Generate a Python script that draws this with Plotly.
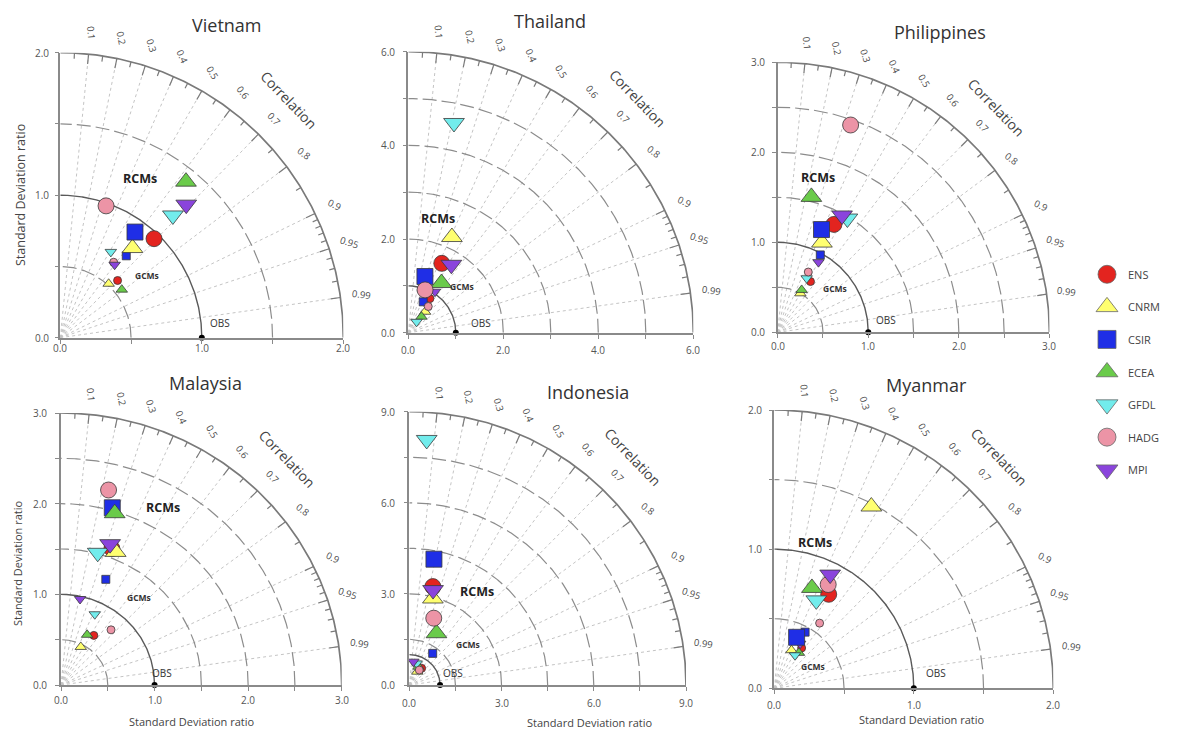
import numpy as np
import plotly.graph_objects as go

W, H = 1178, 733
FONT = "Open Sans"

# ---------------- data ----------------
models = ["ENS", "CNRM", "CSIR", "ECEA", "GFDL", "HADG", "MPI"]
model_colors = ["#e3241f", "#ffff70", "#1f2ee6", "#6acb4a", "#72ecec", "#ec94a6", "#8a44dc"]
model_symbols = ["circle", "triangle-up", "square", "triangle-up", "triangle-down", "circle", "triangle-down"]

countries = ["Vietnam", "Thailand", "Philippines", "Malaysia", "Indonesia", "Myanmar"]
std_max = [2.0, 6.0, 3.0, 3.0, 9.0, 2.0]
arc_step = [0.5, 1.0, 0.5, 0.5, 1.5, 0.5]
label_step = [1.0, 2.0, 1.0, 1.0, 3.0, 1.0]

# standard deviation ratio / correlation, ordered as `models`
rcm_std = {
    "Vietnam":     [0.96, 0.81, 0.91, 1.41, 1.17, 0.98, 1.29],
    "Thailand":    [1.64, 2.24, 1.25, 1.27, 4.58, 0.98, 1.71],
    "Philippines": [1.35, 1.11, 1.24, 1.55, 1.48, 2.44, 1.48],
    "Malaysia":    [1.60, 1.58, 2.03, 1.98, 1.51, 2.21, 1.64],
    "Indonesia":   [3.33, 2.95, 4.22, 1.92, 8.09, 2.34, 3.22],
    "Myanmar":     [0.78, 1.48, 0.40, 0.77, 0.70, 0.84, 0.91],
}
rcm_cor = {
    "Vietnam":     [0.69, 0.63, 0.58, 0.63, 0.68, 0.33, 0.69],
    "Thailand":    [0.43, 0.41, 0.28, 0.55, 0.21, 0.36, 0.53],
    "Philippines": [0.46, 0.44, 0.39, 0.24, 0.52, 0.33, 0.48],
    "Malaysia":    [0.34, 0.37, 0.27, 0.29, 0.26, 0.23, 0.32],
    "Indonesia":   [0.23, 0.26, 0.19, 0.46, 0.07, 0.34, 0.24],
    "Myanmar":     [0.50, 0.47, 0.40, 0.35, 0.43, 0.46, 0.44],
}
gcm_std = {
    "Vietnam":     [0.57, 0.51, 0.74, 0.55, 0.70, 0.65, 0.64],
    "Thailand":    [0.86, 0.57, 0.73, 0.44, 0.29, 0.70, 1.04],
    "Philippines": [0.67, 0.50, 0.98, 0.54, 0.68, 0.75, 0.90],
    "Malaysia":    [0.65, 0.47, 1.26, 0.62, 0.86, 0.81, 0.97],
    "Indonesia":   [0.68, 0.51, 1.29, 0.67, 0.75, 0.59, 0.78],
    "Myanmar":     [0.35, 0.30, 0.46, 0.31, 0.28, 0.57, 0.37],
}
gcm_cor = {
    "Vietnam":     [0.71, 0.67, 0.63, 0.79, 0.51, 0.58, 0.60],
    "Thailand":    [0.53, 0.62, 0.43, 0.63, 0.60, 0.60, 0.54],
    "Philippines": [0.54, 0.50, 0.48, 0.49, 0.47, 0.45, 0.50],
    "Malaysia":    [0.54, 0.45, 0.38, 0.45, 0.42, 0.66, 0.21],
    "Indonesia":   [0.59, 0.51, 0.59, 0.44, 0.32, 0.55, 0.17],
    "Myanmar":     [0.56, 0.41, 0.48, 0.57, 0.53, 0.57, 0.50],
}
obs_std = 1.0
cor_labels = [0.1, 0.2, 0.3, 0.4, 0.5, 0.6, 0.7, 0.8, 0.9, 0.95, 0.99]

# ---------------- panel geometry (pixels) ----------------
panel_origin = [(60.3, 337.7), (408.3, 332.7), (777.7, 332.3),
                (61.0, 685.0), (409.3, 685.0), (774.3, 688.3)]
panel_extent = [(283, 285), (285, 281), (271.7, 270),
                (280.7, 272), (276.7, 273.3), (279, 278.3)]
xtick_gap = [10.7, 17, 14, 15, 18, 17]
ytick_gap = [18, 20, 20, 21, 21, 19]
title_px = [(226.7, 25), (550, 21), (940, 32), (205.7, 383), (588.3, 392), (926.7, 385)]
# positions of the group labels in data units: RCMs, GCMs, OBS
group_label_pos = [
    [(0.56, 1.12), (0.61, 0.44), (1.13, 0.10)],
    [(0.63, 2.44), (1.12, 0.98), (1.54, 0.20)],
    [(0.45, 1.72), (0.63, 0.49), (1.20, 0.14)],
    [(1.09, 1.96), (0.83, 0.96), (1.08, 0.13)],
    [(2.19, 3.07), (1.92, 1.32), (1.43, 0.38)],
    [(0.29, 1.05), (0.28, 0.16), (1.16, 0.11)],
]


def px_to_paper(px, py):
    return px / W, 1 - py / H


def data_to_px(i, x, y):
    ox, oy = panel_origin[i]
    rx, ry = panel_extent[i]
    M = std_max[i]
    return ox + x / M * rx, oy - y / M * ry


def text(px, py, s, size, color="#444", angle=0, xanchor="center"):
    x, y = px_to_paper(px, py)
    return dict(x=x, y=y, xref="paper", yref="paper", text=s, showarrow=False,
                xanchor=xanchor, yanchor="middle", textangle=angle,
                font=dict(size=size, color=color, family=FONT))


fig = go.Figure()
annotations = []
axes = {}

for i, country in enumerate(countries):
    suffix = "" if i == 0 else str(i + 1)
    xr, yr = "x" + suffix, "y" + suffix
    M = std_max[i]
    ox, oy = panel_origin[i]
    rx, ry = panel_extent[i]
    step, lstep = arc_step[i], label_step[i]

    tickvals = list(np.round(np.arange(0, M + 1e-9, step), 3))
    common = dict(range=[0, M], showgrid=False, zeroline=False, showline=True,
                  linecolor="#8a8a8a", linewidth=1.6, ticks="outside", ticklen=4,
                  tickcolor="#8a8a8a", tickvals=tickvals, showticklabels=False, fixedrange=True)
    axes["xaxis" + suffix] = dict(common, domain=[ox / W, (ox + rx) / W], anchor=yr)
    axes["yaxis" + suffix] = dict(common, domain=[1 - oy / H, 1 - (oy - ry) / H], anchor=xr)

    # axis tick labels
    for v in np.arange(0, M + 1e-9, lstep):
        px, py = data_to_px(i, v, 0)
        annotations.append(text(px, py + xtick_gap[i], f"{v:.1f}", 10, "#555"))
        px, py = data_to_px(i, 0, v)
        annotations.append(text(px - ytick_gap[i], py, f"{v:.1f}", 10, "#555"))

    th = np.linspace(0, np.pi / 2, 240)

    # radial correlation lines
    rxs, rys = [], []
    for c in cor_labels:
        rxs += [0, M * c, None]
        rys += [0, M * np.sqrt(1 - c * c), None]
    fig.add_trace(go.Scatter(x=rxs, y=rys, xaxis=xr, yaxis=yr, mode="lines",
                             line=dict(color="#c4c4c4", width=1, dash="3px,3px"),
                             hoverinfo="skip", showlegend=False))

    # standard deviation arcs
    radii = sorted(set(list(np.round(np.arange(step, M + 1e-9, step), 3)) + [obs_std]))
    for r in radii:
        if abs(r - M) < 1e-6:
            ln = dict(color="#7a7a7a", width=1.7)
        elif abs(r - obs_std) < 1e-6:
            ln = dict(color="#5a5a5a", width=1.4)
        else:
            ln = dict(color="#8c8c8c", width=1.2, dash="14px,5px")
        fig.add_trace(go.Scatter(x=r * np.cos(th), y=r * np.sin(th), xaxis=xr, yaxis=yr,
                                 mode="lines", line=ln, hoverinfo="skip", showlegend=False))

    # ticks on the correlation arc
    tx, ty = [], []
    minor = [round(v, 2) for v in np.arange(0.05, 0.9, 0.1)] + [0.91, 0.92, 0.93, 0.94, 0.96, 0.97, 0.98]
    for c, L in [(c, 0.035) for c in cor_labels] + [(c, 0.02) for c in minor]:
        s = np.sqrt(1 - c * c)
        tx += [M * c, M * (1 - L) * c, None]
        ty += [M * s, M * (1 - L) * s, None]
    fig.add_trace(go.Scatter(x=tx, y=ty, xaxis=xr, yaxis=yr, mode="lines",
                             line=dict(color="#7a7a7a", width=1.2),
                             hoverinfo="skip", showlegend=False))

    # model markers: GCMs (small) then RCMs (large)
    for group, stds, cors, base in [("GCM", gcm_std, gcm_cor, 8), ("RCM", rcm_std, rcm_cor, 16)]:
        for j, m in enumerate(models):
            s = stds[country][j]
            c = cors[country][j]
            size = base + (2 if "triangle" in model_symbols[j] else 0)
            fig.add_trace(go.Scatter(
                x=[s * c], y=[s * np.sqrt(1 - c * c)], xaxis=xr, yaxis=yr, mode="markers",
                marker=dict(symbol=model_symbols[j], size=size, color=model_colors[j],
                            line=dict(color="#3a3a3a", width=0.8)),
                cliponaxis=False, name=f"{m} {group}", showlegend=False))

    # observation reference point
    fig.add_trace(go.Scatter(x=[obs_std], y=[0], xaxis=xr, yaxis=yr, mode="markers",
                             marker=dict(size=6, color="black"), cliponaxis=False,
                             showlegend=False, hoverinfo="skip"))

    # correlation labels around the outer arc
    for c in cor_labels:
        ang = np.degrees(np.arccos(c))
        r = 1.075 * M
        px, py = data_to_px(i, r * c, r * np.sqrt(1 - c * c))
        annotations.append(text(px, py, f"{c:g}", 9.5, "#4a4a4a", angle=ang))
    ca = np.radians(46)
    px, py = data_to_px(i, 1.16 * M * np.cos(ca), 1.16 * M * np.sin(ca))
    annotations.append(text(px, py, "Correlation", 14, "#444", angle=46))

    # group labels
    (rcx, rcy), (gcx, gcy), (obx, oby) = group_label_pos[i]
    annotations.append(text(*data_to_px(i, rcx, rcy), "<b>RCMs</b>", 12.5, "#222"))
    annotations.append(text(*data_to_px(i, gcx, gcy), "<b>GCMs</b>", 8.5, "#333"))
    annotations.append(text(*data_to_px(i, obx, oby), "OBS", 10, "#333"))

    annotations.append(text(*title_px[i], country, 18, "#333"))

# axis titles
annotations.append(text(20, 195, "Standard Deviation ratio", 12.5, angle=-90))
annotations.append(text(17, 563, "Standard Deviation ratio", 11, angle=-90))
for (px, py) in [(191.7, 721.5), (590, 722), (921.7, 719)]:
    annotations.append(text(px, py, "Standard Deviation ratio", 11))

# legend panel
axes["xaxis7"] = dict(domain=[1090 / W, 1.0], range=[0, 88], visible=False, anchor="y7", fixedrange=True)
axes["yaxis7"] = dict(domain=[1 - 486 / H, 1 - 258 / H], range=[6.5, -0.5], visible=False,
                      anchor="x7", fixedrange=True)
for j, m in enumerate(models):
    size = 19 if "triangle" in model_symbols[j] else 18
    fig.add_trace(go.Scatter(x=[17], y=[j], xaxis="x7", yaxis="y7", mode="markers",
                             marker=dict(symbol=model_symbols[j], size=size, color=model_colors[j],
                                         line=dict(color="#666", width=0.8)),
                             cliponaxis=False, showlegend=False, name=m))
    annotations.append(dict(x=36, y=j, xref="x7", yref="y7", text=m, showarrow=False,
                            xanchor="left", yanchor="middle",
                            font=dict(size=11, color="#444", family=FONT)))

fig.update_layout(width=W, height=H, margin=dict(l=0, r=0, t=0, b=0), autosize=False,
                  paper_bgcolor="white", plot_bgcolor="rgba(0,0,0,0)",
                  annotations=annotations, **axes)

fig.write_html("out.html")
